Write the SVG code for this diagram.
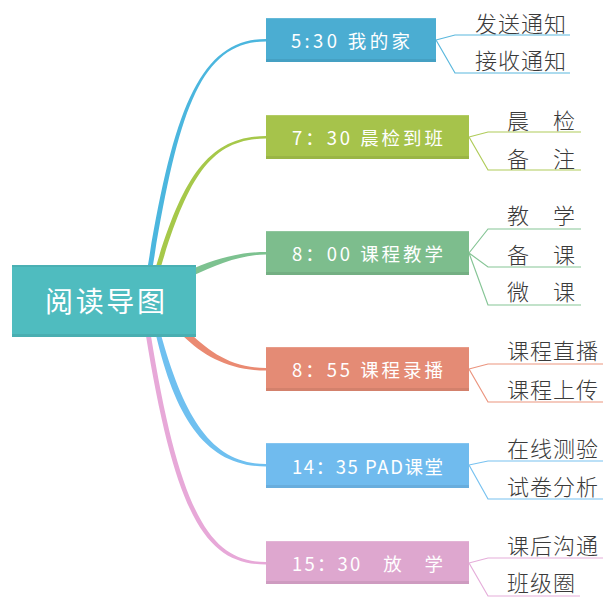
<svg xmlns="http://www.w3.org/2000/svg" width="610" height="603" viewBox="0 0 610 603">
<style>
.nt{font-family:"Noto Sans CJK SC","Noto Sans",sans-serif;font-size:18.5px;fill:#fff;dominant-baseline:central}
.rt{font-family:"Noto Sans CJK SC","Noto Sans",sans-serif;font-size:28px;fill:#fff;dominant-baseline:central}
.lt{font-family:"Noto Sans CJK SC","Noto Sans",sans-serif;font-size:22px;font-weight:300;fill:#3a3a3a;letter-spacing:1px;dominant-baseline:central}
.ln{fill:none;stroke-width:1.2}
.sh{fill:#000;opacity:0.07}
.hl{fill:#fff;opacity:0.15}
</style>
<rect width="610" height="603" fill="#fff"/>
<g id="connectors">
  <path d="M147.5,268 C173,110 200,39 266,39 L266,41.5 C200,41.5 178,112 152.5,268 Z" fill="#4BB6DE"/>
  <path d="M155.5,268 C183,175 210,136 266,136 L266,138.5 C211,138.5 188,177 160.5,268 Z" fill="#A6C84A"/>
  <path d="M188,271 C213,259 240,252 266,252 L266,254.5 C241,254.5 216,265 192,276 Z" fill="#7DC290"/>
  <path d="M187,330 C207,350 230,368 266,368 L266,370.5 C229,370.5 204,356 183,336 Z" fill="#EA8A72"/>
  <path d="M155.5,333 C176,422 208,466.5 266,466.5 L266,464 C212,464 184,418 160.5,333 Z" fill="#6FC0F0"/>
  <path d="M145.5,333 C176,522 208,564.5 266,564.5 L266,562 C212,562 180,518 150.5,333 Z" fill="#E7A8D8"/>
  <path class="ln" stroke="#5BB8DD" d="M436,40 L455,35 L570,35 M436,40 L455,73 L570,73"/>
  <path class="ln" stroke="#B0CC5A" d="M469,137 L488,132 L581,132 M469,137 L488,170 L581,170"/>
  <path class="ln" stroke="#86C596" d="M469,253 L488,229 L581,229 M469,253 L488,267 L581,267 M469,253 L488,305 L581,305"/>
  <path class="ln" stroke="#EB957F" d="M469,369 L488,364 L603,364 M469,369 L488,402 L603,402"/>
  <path class="ln" stroke="#78C2F0" d="M469,465 L488,461 L603,461 M469,465 L488,499 L603,499"/>
  <path class="ln" stroke="#E5AEDA" d="M469,563 L488,558 L603,558 M469,563 L488,596 L580,596"/>
</g>
<g id="root">
  <rect x="12" y="265" width="184" height="72" fill="#4FBCBF"/>
  <rect x="12" y="265" width="184" height="2" fill="#000" opacity="0.06"/>
  <rect x="12" y="334" width="184" height="3" class="sh"/>
  <text class="rt" x="45" y="300" textLength="120" lengthAdjust="spacing">阅读导图</text>
</g>
<g id="n1">
  <rect x="266" y="18" width="170" height="44" fill="#4BADD2"/>
  <rect x="266" y="18" width="170" height="1" class="hl"/>
  <rect x="266" y="59" width="170" height="3" class="sh"/>
  <text class="nt" x="291" y="40" textLength="119" lengthAdjust="spacing">5:30 我的家</text>
</g>
<g id="n1a"><text class="lt" x="475" y="22">发送通知</text></g>
<g id="n1b"><text class="lt" x="475" y="59">接收通知</text></g>
<g id="n2">
  <rect x="266" y="115" width="203" height="44" fill="#A6C34B"/>
  <rect x="266" y="115" width="203" height="1" class="hl"/>
  <rect x="266" y="156" width="203" height="3" class="sh"/>
  <text class="nt" x="292" y="137" textLength="151" lengthAdjust="spacing">7：30 晨检到班</text>
</g>
<g id="n2a"><text class="lt" x="507" y="118.5">晨　检</text></g>
<g id="n2b"><text class="lt" x="507" y="156.5">备　注</text></g>
<g id="n3">
  <rect x="266" y="231" width="203" height="44" fill="#7DBD8D"/>
  <rect x="266" y="231" width="203" height="1" class="hl"/>
  <rect x="266" y="272" width="203" height="3" class="sh"/>
  <text class="nt" x="292" y="253" textLength="151" lengthAdjust="spacing">8：00 课程教学</text>
</g>
<g id="n3a"><text class="lt" x="507" y="214">教　学</text></g>
<g id="n3b"><text class="lt" x="507" y="252.5">备　课</text></g>
<g id="n3c"><text class="lt" x="507" y="290">微　课</text></g>
<g id="n4">
  <rect x="266" y="347" width="203" height="44" fill="#E48B75"/>
  <rect x="266" y="347" width="203" height="1" class="hl"/>
  <rect x="266" y="388" width="203" height="3" class="sh"/>
  <text class="nt" x="292" y="369" textLength="151" lengthAdjust="spacing">8：55 课程录播</text>
</g>
<g id="n4a"><text class="lt" x="507" y="349">课程直播</text></g>
<g id="n4b"><text class="lt" x="507" y="387.5">课程上传</text></g>
<g id="n5">
  <rect x="266" y="443" width="203" height="45" fill="#70BBEE"/>
  <rect x="266" y="443" width="203" height="1" class="hl"/>
  <rect x="266" y="485" width="203" height="3" class="sh"/>
  <text class="nt" x="292" y="465.5" textLength="151" lengthAdjust="spacing">14：35 PAD课堂</text>
</g>
<g id="n5a"><text class="lt" x="507" y="447">在线测验</text></g>
<g id="n5b"><text class="lt" x="507" y="485">试卷分析</text></g>
<g id="n6">
  <rect x="266" y="541" width="203" height="43" fill="#DEA7CF"/>
  <rect x="266" y="541" width="203" height="1" class="hl"/>
  <rect x="266" y="581" width="203" height="3" class="sh"/>
  <text class="nt" x="292" y="562.5" textLength="151" lengthAdjust="spacing">15：30　放　学</text>
</g>
<g id="n6a"><text class="lt" x="507" y="544">课后沟通</text></g>
<g id="n6b"><text class="lt" x="507" y="581">班级圈</text></g>
</svg>
